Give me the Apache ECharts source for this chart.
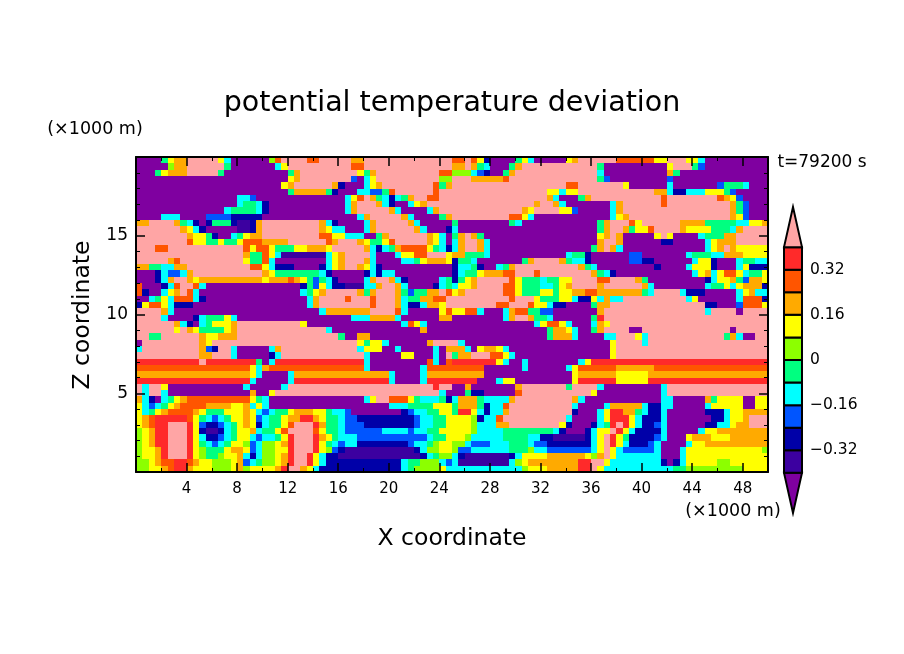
<!DOCTYPE html>
<html>
<head>
<meta charset="utf-8">
<title>potential temperature deviation</title>
<script src="https://cdn.jsdelivr.net/npm/echarts@6/dist/echarts.min.js"></script>
<style>
  html, body { margin: 0; background: #fff; }
  #chart { width: 904px; height: 654px; }
</style>
</head>
<body>
<div id="chart"></div>
<script>
// contour class limits, low to high, and one letter per class
let levelKeys = ['v', 'i', 'n', 'b', 'c', 'g', 'l', 'y', 'a', 'o', 'r', 'p']
let levelEdges = [-0.4, -0.32, -0.24, -0.16, -0.08, 0, 0.08, 0.16, 0.24, 0.32, 0.4]
let barTicks = [-0.32, -0.16, 0, 0.16, 0.32]
let tipLength = 0.142
let levelColors = ['#7f00a0', '#3c00a0', '#0000a8', '#0055ff', '#00ffff', '#00ff80',
  '#8cff00', '#ffff00', '#ffaa00', '#ff5500', '#ff2a2a', '#ffa5a5']

let xMax = 50
let zMax = 20
let columns = 100

// field, top row first. each token is a class letter and the column where it stops
let fieldRows = [
  'v4 g5 y6 a8 p13 y14 c15 v21 l22 o23 p27 o29 p34 a36 p50 o52 p53 o54 y55 n56 v60 g61 y62 c63 v68 y69 a70 p76 o82 y84 p87 y89 c90 v100',
  'v5 l6 a8 p14 g15 v22 c23 y24 p34 o36 p50 a52 p53 a54 g55 c56 v59 g60 a61 p73 g74 v84 y85 p88 g89 b90 v100',
  'v3 g4 y5 a8 p13 g14 v24 g25 a26 p35 y36 g37 a38 p48 o50 l53 c54 b55 n56 v58 g59 a60 p73 c74 v84 a85 g86 v100',
  'v24 y25 a26 p34 b35 v36 c37 y38 p48 l50 p53 a58 o59 p73 g74 b75 v84 b85 v100',
  'v23 y24 a25 p31 a32 n33 v36 c37 y38 a39 p47 o48 g49 a50 p68 o70 p77 y78 v84 c85 v92 b93 g96 c97 v100',
  'v24 g25 a30 g31 n32 v35 c37 b39 g40 o41 p47 o48 p50 p65 y67 c68 y70 p82 a84 c85 n87 c90 y93 g94 b95 v100',
  'v16 c18 b19 v33 c34 y35 o36 p37 a38 g39 c40 n41 c42 g43 a44 p46 o48 p50 p65 a66 c67 v70 g71 a72 p83 o84 p92 o93 a94 y95 b96 v100',
  'v16 c17 g19 c20 n21 v33 c34 a35 p38 a39 c40 n41 v43 c44 y45 a46 p50 p63 a64 p66 a67 c68 v75 c76 a77 p83 o84 p94 a95 g96 b97 v100',
  'v14 c15 g19 c20 n21 v33 c34 a35 p40 a41 c42 v46 c47 a48 p50 p61 a62 y63 p67 y69 b70 v75 c76 a77 p94 a95 g96 b97 v100',
  'v4 c7 v11 b15 n20 v35 c36 a37 p42 a43 c44 v48 g49 a50 p59 o61 y62 c63 v75 c76 y77 a78 p94 a95 y96 b97 v100',
  'a2 p6 a7 g8 c9 n10 v11 n12 g15 n16 i18 n19 a20 p29 a30 c31 n32 v36 c37 a38 p43 a44 c45 v50 g51 v59 g60 c61 v73 g74 a75 p78 o79 y80 p86 a90 g95 c97 y99 a100',
  'p7 a8 y9 c10 n11 v16 i18 n19 a20 p29 a30 y31 c33 v36 c37 a38 p44 a45 c46 v49 n50 c51 v73 g74 a75 p77 a78 g79 y81 o82 p86 a87 y91 g94 c95 a96 p100',
  'p8 a9 y11 g12 n13 v15 c16 g17 y18 a20 p29 o31 y33 c36 v38 g39 a40 p46 a47 y48 c49 v50 g51 a52 p53 a54 g55 v73 y74 a75 p76 a77 v82 y83 p84 y85 v89 c90 g93 a95 p100',
  'p8 o9 y11 g13 y14 g16 y17 o20 a24 p30 o31 a32 p35 a36 y37 g39 y40 o41 p46 a47 y48 c49 v50 c51 a52 p54 a55 c56 v73 a74 p76 a77 v83 n85 v90 c91 y92 a95 p100',
  'p3 o5 p17 o18 y19 o21 y22 g25 y27 a30 y31 p36 a37 c38 n39 c40 g41 a42 o46 y47 g48 c49 n50 c51 a52 p54 a55 c56 v72 g73 a74 p75 a76 c77 v90 c91 y92 a93 p94 a95 y100',
  'p17 a18 g20 o21 y22 c23 i30 c31 y32 a33 p37 c38 v41 c42 y44 o46 p49 y50 a52 g55 c56 v68 c69 g71 n72 v78 b80 v87 c88 g91 c93 a96 y100',
  'p5 a6 o7 p17 y18 g20 o21 c22 v30 c31 y32 a33 p36 a37 c38 v42 c44 g45 y46 a49 y50 n51 g53 c54 v61 g62 a63 p67 a68 g69 c71 n72 v78 b80 n82 v88 c89 y91 n92 v95 c96 g98 c100',
  'a2 g4 c6 a8 p18 o20 y21 c22 n25 v29 n30 c31 y32 a33 p35 a36 y37 c38 n39 v50 n51 c53 g54 n55 v57 c58 g59 a60 p70 a71 g72 c73 v82 n83 v87 c88 y91 n92 v95 c96 y97 n100',
  'v3 n4 c5 b7 c8 a9 p20 a21 y22 g29 c30 n31 v36 n37 c38 n39 c41 v50 n51 c52 g54 y55 a58 o60 p63 o64 p72 a73 g74 c75 n76 v88 c89 y90 a91 c92 y93 o95 y96 c97 g99 y100',
  'v3 n4 c5 a6 p8 a9 y10 a20 y21 a24 o25 a26 y27 g28 b29 g30 c31 n32 v36 c37 a38 p40 a41 c42 n43 v48 c49 g50 n51 g52 y53 a54 p59 o60 y61 g64 c65 g67 y69 p73 o75 p79 a80 g81 v90 n91 c92 y94 a95 g96 b97 a99 y100',
  'o1 v4 n5 c6 o7 p9 o10 c11 v26 n27 g28 b29 y30 c31 n33 i36 c38 a39 p41 a42 c43 v47 n48 c49 g50 c51 y53 a54 p58 o60 y61 g64 c66 g67 y68 a69 p73 a74 p80 a81 c82 v90 c91 g93 y94 c95 y96 a99 n100',
  'o1 n2 v4 c5 y6 a7 p8 o9 c10 v26 c27 g28 y29 a30 p35 a36 g37 a38 p41 a42 g43 b44 g46 a48 p49 o50 y51 a52 p58 o60 y61 g64 y66 g67 y69 a71 o73 a75 a80 g81 c82 p86 c87 n90 v95 c96 y97 a98 c100',
  'v2 c3 g4 y5 c6 o9 c10 n11 v27 c28 a29 p33 o34 p37 o38 p41 a42 c43 g45 a47 o49 p50 p59 o60 p63 y64 g67 y69 c70 n72 y73 c74 a75 c77 p87 c88 y89 v95 c96 o99 n100',
  'n1 y2 o4 y5 c6 n9 v27 c28 a29 p37 o38 p41 a42 c43 n45 c46 a48 y49 p50 p57 o59 p62 o63 y65 c66 n68 v72 g73 a75 p90 n92 v95 b96 o99 y100',
  'p4 a5 c6 v29 c30 a37 p41 o42 c43 v48 y49 o50 y52 o54 c55 v58 c59 a60 o62 g64 b66 v73 a74 p90 c91 p95 v96 p100',
  'p4 c5 v9 n10 c11 g14 y15 c16 v34 c37 a41 c42 v48 a50 v58 c59 a60 p62 a63 g65 c66 v72 g73 r74 p100',
  'p6 a7 c8 n9 v10 c11 g12 y15 a16 p26 y27 v42 c43 o44 y45 c46 v50 v63 c64 y65 o67 y68 c69 v72 c73 a74 y75 p100',
  'p6 y7 p8 a9 y10 g14 y15 a16 p30 c31 v45 a46 v50 v65 g66 a68 y69 c70 v72 g73 a74 p78 v80 p94 v95 p100',
  'p2 g4 p10 a11 y13 a16 p32 g33 v35 a37 v50 v65 g66 a69 c70 v74 c76 p79 y80 c81 p93 g94 a95 c96 v98 p100',
  'v1 p10 a11 y12 p35 y36 g37 y39 c40 v46 a47 p50 p51 c52 v75 y76 p80 c81 p100',
  'c1 p10 a11 b12 n13 p15 c16 v21 c22 a23 p35 c36 y39 v41 c42 v47 c48 v49 a50 a52 c53 v54 y55 a57 y58 c59 v75 y76 p100',
  'p10 a12 p15 c16 v21 n22 c23 p36 c37 v42 y44 v47 c48 v49 p50 g51 a53 p56 o58 y59 c60 v75 y76 p100',
  'r10 p11 r19 g20 v21 c22 r36 c37 v46 o47 c48 v49 o50 r57 y58 c59 v61 c62 v70 c71 y72 r100',
  'o18 y19 c20 a21 o36 c37 v45 c46 o50 o55 v61 c62 v68 c69 y70 o76 a82 o100',
  'a18 y19 c20 v24 c25 a40 c41 v45 c46 a50 a55 v69 y70 a76 y81 a100',
  'r18 c19 v24 c25 r40 c41 v45 c46 r50 r54 v57 c58 y60 v69 y70 r76 y81 r100',
  'p1 c2 p4 y5 v17 c18 v23 c24 p47 r48 p50 v52 a53 v60 a61 p68 g69 p73 c74 v83 c84 p100',
  'p1 c2 p4 c5 v18 a19 v21 y22 p48 c49 v50 v52 g53 n55 v60 o61 p72 y73 v83 c84 p100',
  'a1 c2 n3 v4 c5 g6 y7 a8 o18 y19 g20 c21 v36 c37 y38 p40 o43 y44 g45 c48 g49 n50 c51 a54 g55 c59 a60 p69 a70 c71 v83 c85 v90 a91 g92 y96 v98 y100',
  'y1 c2 b3 c4 g5 y6 a7 o11 a15 y17 a18 c19 y20 c21 v40 c43 g47 y50 g51 a54 g55 n56 c58 o59 p69 c70 v74 c75 a80 c81 n83 c85 v90 c91 y96 v98 y100',
  'y1 c2 g3 y4 a5 o9 a10 y11 g14 y17 a18 y19 c20 b21 c22 g24 y25 a28 y30 g31 c33 b34 v42 n43 b44 c46 g48 y50 g51 r53 y54 c55 n56 c58 a59 p69 n70 v73 c74 y75 r77 a79 g80 c81 n83 c84 v90 n93 c94 y96 a100',
  'y1 a2 o3 r8 o9 y10 g11 c12 b13 c14 g15 y17 a18 y19 b20 c21 g23 y24 a26 r28 a29 y30 g32 c33 b35 n44 b45 c47 g49 y50 y53 l54 n55 c57 o58 p68 c69 v73 c74 y75 r78 y79 c80 n83 c84 v91 n93 c94 y96 a97 p100',
  'y1 a2 o3 r5 p8 r9 y10 b11 n13 b14 c15 g16 y17 a18 y19 n20 c21 g23 y24 o25 p28 r29 a30 g32 c33 b36 n44 b45 c47 g49 y50 y53 l54 c57 a59 p67 y68 n69 v72 n73 c74 g75 r76 p77 r78 y79 c80 n82 b83 c84 v90 n92 c94 y95 a97 p100',
  'l1 y2 a3 r5 p8 r9 y10 n11 i13 n14 c15 g16 y18 a19 c20 g22 y23 o24 p28 o29 y30 g32 c33 b39 c43 b44 c46 g48 y50 y53 l54 c58 g66 c67 n68 v71 n72 c73 y75 p76 r77 y78 c79 n83 c84 v89 c90 y92 a100',
  'l1 y2 a3 r5 p8 r9 y10 c11 n13 b14 c15 g16 y18 c19 b20 c22 g23 y24 r25 p28 r29 a30 y31 g32 c33 c35 b46 c47 g49 y50 y52 l53 c58 g62 c64 n66 i71 n72 c73 y74 p75 r76 y77 g78 n82 b83 c84 v87 y88 a91 y94 a100',
  'l1 y2 a3 r5 p8 r9 y10 g11 c12 b13 c14 g15 y17 l18 b19 c20 l22 y23 a24 r25 p28 r29 y30 g31 c32 b33 c35 n43 b44 c46 g47 l48 y50 l52 c53 b56 c59 g62 c63 b65 n72 c73 y74 p75 r76 y77 c78 n81 b82 c83 v87 c88 y90 a100',
  'l1 y3 a4 r5 p8 r9 y10 l11 g14 y15 a17 y18 b19 c20 l22 y24 r25 p28 r29 y30 l31 b32 n33 i44 n45 c46 l48 y50 l51 b53 c59 g62 l63 c65 b72 c73 y74 p75 y76 c77 b82 c83 v86 c87 y99 l100',
  'l1 y3 a4 r5 p8 r9 y10 l11 g13 l14 y16 a17 c18 n19 c20 l22 y23 a24 r25 p27 r28 y29 c30 n32 i45 n46 c47 g48 l50 c51 n52 i59 n60 c61 y65 a71 y72 l73 a74 p75 y76 c83 v86 c87 y100',
  'l2 y3 a4 o6 r8 o9 a10 y12 l15 y16 a17 b18 c19 g20 l22 y23 a24 r25 p27 r28 y29 c30 n42 c43 g45 l48 c49 b50 c51 i59 c60 l61 y62 a70 r72 p74 y75 c83 n84 v85 n86 c87 y92 l94 y100',
  'l2 y4 a5 o6 r8 a9 y12 l15 y16 a17 l18 y22 a23 r24 p26 a27 y28 c29 n42 c43 g44 l48 y49 c50 c61 l62 y65 a70 r72 p73 y74 c85 g87 l96 y100'
]

let cellData = []
fieldRows.forEach((row, r) => {
  let col = 0
  row.split(' ').forEach(token => {
    let level = levelKeys.indexOf(token[0])
    let stop = Number(token.slice(1))
    for (; col < stop && col < columns; col++) {
      cellData.push([(col * xMax) / columns, zMax - (r * zMax) / fieldRows.length, level])
    }
  })
})

let cellW = xMax / columns
let cellH = zMax / fieldRows.length

function renderCell(params, api) {
  let a = api.coord([api.value(0), api.value(1)])
  let b = api.coord([api.value(0) + cellW, api.value(1) - cellH])
  let x0 = Math.round(a[0])
  let y0 = Math.round(a[1])
  return {
    type: 'rect',
    shape: { x: x0, y: y0, width: Math.round(b[0]) - x0, height: Math.round(b[1]) - y0 },
    style: { fill: levelColors[api.value(2)] }
  }
}

// colorbar: boxes between the edges, a pointed end on each side
let barData = levelColors.map((c, i) => {
  let lo = i === 0 ? levelEdges[0] - tipLength : levelEdges[i - 1]
  let hi = i === levelEdges.length ? levelEdges[i - 1] + tipLength : levelEdges[i]
  return [lo, hi, i]
})

function renderBar(params, api) {
  let lo = api.value(0)
  let hi = api.value(1)
  let i = api.value(2)
  let style = { fill: levelColors[i], stroke: '#000', lineWidth: 2 }
  let p = (x, y) => api.coord([x, y])
  if (i === 0) {
    return { type: 'polygon', shape: { points: [p(0, hi), p(1, hi), p(0.5, lo)] }, style: style }
  }
  if (i === levelColors.length - 1) {
    return { type: 'polygon', shape: { points: [p(0, lo), p(1, lo), p(0.5, hi)] }, style: style }
  }
  let a = p(0, hi)
  let b = p(1, lo)
  return { type: 'rect', shape: { x: a[0], y: a[1], width: b[0] - a[0], height: b[1] - a[1] }, style: style }
}

let font = 'DejaVu Sans'
let lineStyle = { color: '#000', width: 2 }

function xAxisAt(position, labels) {
  return {
    type: 'value', gridIndex: 0, position: position, min: 0, max: xMax, interval: 4, z: 10,
    axisLine: { show: true, onZero: false, lineStyle: lineStyle },
    axisTick: { show: true, inside: true, length: 9, lineStyle: { color: '#000', width: 1.5 } },
    minorTick: { show: true, splitNumber: 2, length: 4, lineStyle: { color: '#000', width: 1 } },
    splitLine: { show: false },
    axisLabel: { show: labels, color: '#000', fontFamily: font, fontSize: 15, margin: 10, showMinLabel: false, showMaxLabel: false }
  }
}

function yAxisAt(position, labels) {
  return {
    type: 'value', gridIndex: 0, position: position, min: 0, max: zMax, interval: 5, z: 10,
    axisLine: { show: true, onZero: false, lineStyle: lineStyle },
    axisTick: { show: true, inside: true, length: 9, lineStyle: { color: '#000', width: 1.5 } },
    minorTick: { show: true, splitNumber: 5, length: 4, lineStyle: { color: '#000', width: 1 } },
    splitLine: { show: false },
    axisLabel: { show: labels, color: '#000', fontFamily: font, fontSize: 17, margin: 8, showMinLabel: false, showMaxLabel: false }
  }
}

function note(text, x, y, size, rotation) {
  return {
    type: 'text', x: x, y: y, rotation: rotation || 0,
    style: { text: text, fill: '#000', font: size + 'px "' + font + '"', textAlign: 'center', textVerticalAlign: 'middle' }
  }
}

let chart = echarts.init(document.getElementById('chart'), null, { renderer: 'canvas' })
chart.setOption({
  backgroundColor: '#fff',
  animation: false,
  textStyle: { fontFamily: font },
  grid: [
    { left: 136, top: 157, width: 632, height: 315 },
    { left: 784, top: 202, width: 18, height: 316 }
  ],
  xAxis: [
    xAxisAt('bottom', true),
    xAxisAt('top', false),
    { type: 'value', gridIndex: 1, min: 0, max: 1, show: false }
  ],
  yAxis: [
    yAxisAt('left', true),
    yAxisAt('right', false),
    {
      type: 'value', gridIndex: 1, position: 'right', min: -0.56, max: 0.56,
      axisLine: { show: false },
      axisTick: { show: false },
      splitLine: { show: false },
      axisLabel: {
        color: '#000', fontFamily: font, fontSize: 15.5, margin: 8,
        customValues: barTicks,
        formatter: v => String(v).replace('-', '\u2212')
      }
    }
  ],
  series: [
    {
      type: 'custom', xAxisIndex: 0, yAxisIndex: 0, z: 1, progressive: 0, silent: true,
      renderItem: renderCell, data: cellData
    },
    {
      type: 'custom', xAxisIndex: 2, yAxisIndex: 2, z: 3, silent: true,
      encode: { y: [0, 1] }, clip: false,
      renderItem: renderBar, data: barData
    }
  ],
  graphic: [
    note('potential temperature deviation', 452, 104, 28.5),
    note('X coordinate', 452, 539, 23.5),
    note('Z coordinate', 83, 315, 23.5, Math.PI / 2),
    note('(\u00d71000 m)', 95, 129, 17.5),
    note('(\u00d71000 m)', 733, 511, 17.5),
    note('t=79200 s', 822, 163, 17)
  ]
})
</script>
</body>
</html>
